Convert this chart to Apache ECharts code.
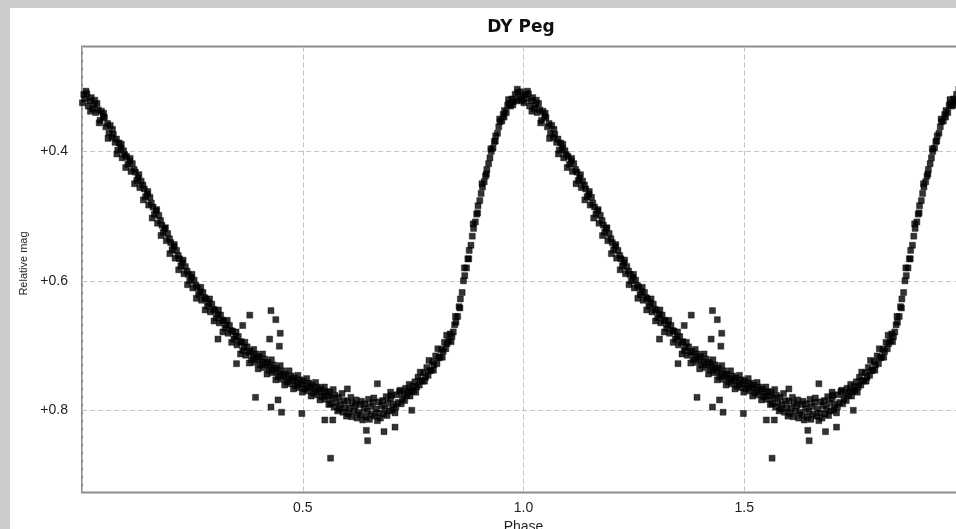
<!DOCTYPE html>
<html>
<head>
<meta charset="utf-8">
<script src="https://cdn.jsdelivr.net/npm/echarts@6/dist/echarts.min.js"></script>
<style>
  html, body { margin: 0; padding: 0; background: #cccccc; width: 956px; height: 529px; overflow: hidden; }
  #chart { position: absolute; left: 10px; top: 8px; width: 946px; height: 521px; background: #ffffff; }
</style>
</head>
<body>
<div id="chart"></div>
<script>
// Phase-folded photometry of DY Peg: [phase, relative magnitude]
const descendingBranch = [
  [0.001,0.325],[0.004,0.312],[0.007,0.319],[0.011,0.311],[0.014,0.330],[0.018,0.322],
  [0.021,0.317],[0.024,0.334],[0.028,0.328],[0.031,0.340],[0.034,0.326],[0.037,0.336],
  [0.041,0.352],[0.044,0.338],[0.048,0.346],[0.051,0.348],[0.054,0.362],[0.058,0.357],
  [0.061,0.372],[0.064,0.360],[0.068,0.378],[0.071,0.374],[0.075,0.386],[0.078,0.381],
  [0.081,0.398],[0.084,0.387],[0.088,0.395],[0.091,0.410],[0.094,0.399],[0.097,0.405],
  [0.101,0.408],[0.104,0.420],[0.108,0.415],[0.111,0.431],[0.114,0.419],[0.118,0.428],
  [0.121,0.432],[0.124,0.445],[0.127,0.441],[0.131,0.456],[0.134,0.446],[0.138,0.452],
  [0.141,0.458],[0.144,0.470],[0.148,0.466],[0.151,0.483],[0.154,0.471],[0.157,0.480],
  [0.161,0.486],[0.164,0.497],[0.168,0.492],[0.171,0.511],[0.174,0.499],[0.178,0.507],
  [0.181,0.514],[0.184,0.525],[0.187,0.519],[0.191,0.538],[0.194,0.527],[0.198,0.535],
  [0.201,0.541],[0.204,0.552],[0.208,0.547],[0.211,0.565],[0.214,0.553],[0.218,0.561],
  [0.221,0.566],[0.224,0.577],[0.227,0.572],[0.231,0.589],[0.234,0.578],[0.238,0.585],
  [0.241,0.590],[0.244,0.600],[0.248,0.595],[0.251,0.611],[0.254,0.599],[0.258,0.607],
  [0.261,0.610],[0.264,0.621],[0.268,0.617],[0.271,0.630],[0.274,0.618],[0.278,0.626],
  [0.281,0.628],[0.284,0.639],[0.287,0.634],[0.291,0.648],[0.294,0.636],[0.298,0.644],
  [0.301,0.646],[0.304,0.657],[0.308,0.652],[0.311,0.665],[0.314,0.653],[0.318,0.661],
  [0.321,0.662],[0.324,0.673],[0.327,0.668],[0.331,0.681],[0.334,0.669],[0.338,0.677],
  [0.341,0.678],[0.344,0.690],[0.348,0.686],[0.351,0.699],[0.354,0.686],[0.358,0.695],
  [0.361,0.694],[0.364,0.708],[0.367,0.703],[0.371,0.715],[0.374,0.702],[0.378,0.711],
  [0.381,0.709],[0.384,0.722],[0.388,0.717],[0.391,0.726],[0.394,0.713],[0.398,0.721],
  [0.401,0.717],[0.404,0.730],[0.408,0.725],[0.411,0.734],[0.414,0.721],[0.418,0.729],
  [0.421,0.726],[0.424,0.738],[0.427,0.733],[0.431,0.742],[0.434,0.730],[0.438,0.739],
  [0.441,0.735],[0.444,0.748],[0.448,0.743],[0.451,0.752],[0.454,0.739],[0.458,0.747],
  [0.461,0.744],[0.464,0.756],[0.467,0.751],[0.471,0.759],[0.474,0.747],[0.478,0.754],
  [0.481,0.750],[0.484,0.762],[0.488,0.757],[0.491,0.765],[0.494,0.753],[0.498,0.760],
  [0.501,0.755],[0.504,0.767],[0.508,0.762],[0.511,0.770],[0.514,0.758],[0.518,0.765],
  [0.521,0.761],[0.524,0.773],[0.527,0.768],[0.531,0.776],[0.534,0.764],[0.538,0.771],
  [0.541,0.767],[0.544,0.779],[0.548,0.774],[0.551,0.783],[0.554,0.771],[0.558,0.778]
];

// Points lying along the edges of the descending band
const descendingEdge = [
  [0.009,0.307],[0.019,0.338],[0.029,0.321],[0.039,0.356],[0.049,0.341],[0.059,0.380],
  [0.069,0.366],[0.079,0.404],[0.089,0.389],[0.099,0.425],[0.109,0.411],[0.119,0.450],
  [0.129,0.436],[0.139,0.475],[0.149,0.462],[0.159,0.503],[0.169,0.490],[0.179,0.530],
  [0.189,0.518],[0.199,0.558],[0.209,0.544],[0.219,0.583],[0.229,0.568],[0.239,0.606],
  [0.249,0.590],[0.259,0.627],[0.269,0.610],[0.279,0.645],[0.289,0.628],[0.299,0.662],
  [0.309,0.645],[0.319,0.679],[0.329,0.661],[0.339,0.695],[0.349,0.679],[0.359,0.713],
  [0.369,0.695],[0.379,0.727],[0.389,0.706],[0.399,0.736],[0.409,0.713],[0.419,0.744],
  [0.429,0.722],[0.439,0.753],[0.449,0.731],[0.459,0.761],[0.469,0.739],[0.479,0.767],
  [0.489,0.746],[0.499,0.772],[0.509,0.751],[0.519,0.778],[0.529,0.757],[0.539,0.784],
  [0.549,0.764],[0.559,0.791]
];

const minimumPart = [
  [0.561,0.772],[0.563,0.790],[0.566,0.781],[0.569,0.768],[0.571,0.795],[0.573,0.777],[0.576,0.788],[0.579,0.801],
  [0.581,0.780],[0.583,0.798],[0.586,0.791],[0.589,0.774],[0.591,0.803],[0.593,0.785],[0.596,0.796],[0.599,0.809],
  [0.601,0.786],[0.603,0.805],[0.606,0.797],[0.609,0.780],[0.611,0.810],[0.613,0.789],[0.616,0.801],[0.619,0.793],
  [0.621,0.784],[0.623,0.812],[0.626,0.803],[0.629,0.791],[0.631,0.807],[0.633,0.786],[0.636,0.815],[0.639,0.797],
  [0.641,0.790],[0.643,0.811],[0.646,0.802],[0.649,0.783],[0.651,0.814],[0.653,0.794],[0.656,0.806],[0.659,0.788],
  [0.661,0.781],[0.663,0.809],[0.666,0.798],[0.669,0.816],[0.671,0.804],[0.673,0.787],[0.676,0.812],[0.679,0.793],
  [0.681,0.785],[0.683,0.806],[0.686,0.798],[0.689,0.779],[0.691,0.808],[0.693,0.789],[0.696,0.801],[0.699,0.782],
  [0.701,0.777],[0.703,0.799],[0.706,0.791],[0.709,0.804],[0.711,0.795],[0.713,0.776],[0.716,0.788],[0.719,0.771],
  [0.721,0.769],[0.723,0.790],[0.726,0.782],[0.729,0.774],[0.731,0.785],[0.733,0.766],[0.736,0.777],[0.739,0.770],
  [0.741,0.760],[0.743,0.778],[0.746,0.771],[0.749,0.763]
];

const risingBranch = [
  [0.751,0.769],[0.754,0.756],[0.758,0.764],[0.761,0.749],[0.764,0.761],[0.767,0.754],
  [0.771,0.755],[0.774,0.742],[0.778,0.749],[0.781,0.734],[0.784,0.746],[0.788,0.739],
  [0.791,0.738],[0.794,0.725],[0.797,0.730],[0.801,0.716],[0.804,0.728],[0.808,0.719],
  [0.811,0.718],[0.814,0.706],[0.818,0.709],[0.821,0.695],[0.824,0.705],[0.827,0.697],
  [0.831,0.693],[0.834,0.682],[0.838,0.686],[0.841,0.679],[0.844,0.668],[0.847,0.664],
  [0.851,0.655],[0.854,0.640],[0.857,0.628],[0.861,0.618],[0.864,0.600],[0.867,0.592],
  [0.871,0.580],[0.874,0.566],[0.877,0.553],[0.881,0.545],[0.884,0.531],[0.887,0.519],
  [0.891,0.509],[0.894,0.497],[0.897,0.484],[0.901,0.476],[0.904,0.465],[0.907,0.455],
  [0.911,0.447],[0.914,0.438],[0.917,0.428],[0.921,0.419],[0.924,0.410],[0.927,0.400],
  [0.931,0.395],[0.934,0.385],[0.937,0.376],[0.941,0.372],[0.944,0.362],[0.947,0.354],
  [0.951,0.353],[0.954,0.343],[0.957,0.337],[0.961,0.340],[0.964,0.329],[0.967,0.326],
  [0.971,0.330],[0.974,0.319],[0.977,0.323],[0.981,0.312],[0.984,0.322],[0.987,0.309],
  [0.991,0.319],[0.994,0.308],[0.997,0.315]
];

// Points lying along the edges of the rising band
const risingEdge = [
  [0.756,0.772],[0.766,0.741],[0.776,0.755],[0.786,0.723],[0.796,0.738],[0.806,0.705],
  [0.816,0.718],[0.826,0.684],[0.836,0.694],[0.846,0.655],[0.856,0.642],[0.866,0.580],
  [0.876,0.566],[0.886,0.512],[0.896,0.495],[0.906,0.450],[0.916,0.435],[0.926,0.396],
  [0.936,0.384],[0.946,0.350],[0.956,0.347],[0.966,0.320],[0.976,0.328],[0.986,0.304],
  [0.996,0.322]
];

const strayPoints = [
  [0.308,0.690],[0.350,0.728],[0.364,0.669],[0.380,0.653],
  [0.428,0.646],[0.439,0.660],[0.449,0.681],[0.425,0.690],[0.447,0.701],
  [0.393,0.780],[0.428,0.795],[0.444,0.784],[0.452,0.803],[0.498,0.805],
  [0.550,0.815],[0.568,0.815],[0.563,0.874],
  [0.601,0.767],[0.644,0.831],[0.647,0.847],[0.669,0.759],[0.684,0.833],
  [0.699,0.772],[0.709,0.826],[0.747,0.800]
];

const xTicks = [0.5, 1.0, 1.5];
const yTicks = [0.4, 0.6, 0.8];

// One folded cycle, drawn at phase p and again at p + 1
const oneCycle = [].concat(descendingBranch, descendingEdge, minimumPart, risingBranch, risingEdge, strayPoints);
const twoCycles = oneCycle.concat(oneCycle.map(([p, m]) => [p + 1, m]));

const tickFont = { fontFamily: 'Liberation Sans, Arial, sans-serif', fontSize: 14, color: '#1e1e1e' };
const gridDash = { color: '#c4c4c4', width: 1, type: [5, 3] };

const chart = echarts.init(document.getElementById('chart'), null, { renderer: 'canvas' });
chart.setOption({
  animation: false,
  backgroundColor: '#ffffff',
  title: {
    text: 'DY Peg',
    left: 506,
    top: 6,
    textAlign: 'center',
    textStyle: { fontFamily: 'DejaVu Sans, Verdana, sans-serif', fontWeight: 'bold', fontSize: 17, color: '#111111' }
  },
  grid: {
    left: 72, top: 38.5, right: -9, bottom: 36.5,
    outerBoundsMode: 'none',
    containLabel: false,
    show: true, borderColor: '#8c8c8c', borderWidth: 2, backgroundColor: 'transparent'
  },
  xAxis: {
    type: 'value',
    min: 0, max: 2, interval: 0.5,
    name: 'Phase',
    nameLocation: 'middle',
    nameGap: 25,
    nameTextStyle: tickFont,
    axisLine: { show: false },
    axisTick: { show: false },
    axisLabel: Object.assign({
      margin: 9,
      showMinLabel: false,
      showMaxLabel: false,
      formatter: v => (xTicks.indexOf(v) >= 0 ? v.toFixed(1) : '')
    }, tickFont),
    splitLine: { show: true, lineStyle: gridDash }
  },
  yAxis: {
    type: 'value',
    inverse: true,
    min: 0.238, max: 0.927,
    name: 'Relative mag',
    nameLocation: 'middle',
    nameGap: 52,
    nameRotate: 90,
    nameTextStyle: { fontFamily: 'Liberation Sans, Arial, sans-serif', fontSize: 11, color: '#1e1e1e', padding: [0, 0, 0, 12] },
    axisLine: { show: false },
    axisTick: { show: false, customValues: yTicks },
    axisLabel: Object.assign({
      margin: 14,
      customValues: yTicks,
      formatter: v => '+' + v.toFixed(1)
    }, tickFont),
    splitLine: { show: true, lineStyle: gridDash }
  },
  series: [{
    type: 'scatter',
    data: twoCycles,
    symbol: 'rect',
    symbolSize: 6,
    itemStyle: { color: '#000000', borderColor: '#000000', borderWidth: 0.5 },
    silent: true
  }]
});
</script>
</body>
</html>
